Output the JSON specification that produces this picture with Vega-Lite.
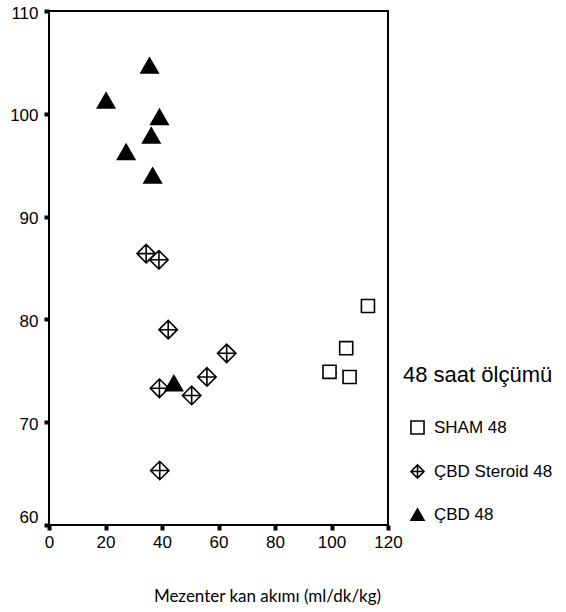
{
  "$schema": "https://vega.github.io/schema/vega-lite/v6.json",
  "width": 339,
  "height": 514,
  "autosize": {"type": "none"},
  "padding": {"left": 49, "top": 11, "right": 178, "bottom": 87},
  "background": "white",
  "config": {
    "view": {"stroke": "black", "strokeWidth": 2},
    "font": "Liberation Sans"
  },
  "data": {
    "values": [
      {"akim": 112.9, "deger": 81.3, "grup": "SHAM 48"},
      {"akim": 105.2, "deger": 77.2, "grup": "SHAM 48"},
      {"akim": 99.3, "deger": 74.9, "grup": "SHAM 48"},
      {"akim": 106.4, "deger": 74.4, "grup": "SHAM 48"},
      {"akim": 34.4, "deger": 86.4, "grup": "ÇBD Steroid 48"},
      {"akim": 38.9, "deger": 85.8, "grup": "ÇBD Steroid 48"},
      {"akim": 42.2, "deger": 79.0, "grup": "ÇBD Steroid 48"},
      {"akim": 62.9, "deger": 76.7, "grup": "ÇBD Steroid 48"},
      {"akim": 55.9, "deger": 74.4, "grup": "ÇBD Steroid 48"},
      {"akim": 39.1, "deger": 73.3, "grup": "ÇBD Steroid 48"},
      {"akim": 50.5, "deger": 72.6, "grup": "ÇBD Steroid 48"},
      {"akim": 39.2, "deger": 65.3, "grup": "ÇBD Steroid 48"},
      {"akim": 35.6, "deger": 104.7, "grup": "ÇBD 48"},
      {"akim": 20.2, "deger": 101.3, "grup": "ÇBD 48"},
      {"akim": 39.1, "deger": 99.7, "grup": "ÇBD 48"},
      {"akim": 36.2, "deger": 97.9, "grup": "ÇBD 48"},
      {"akim": 27.3, "deger": 96.3, "grup": "ÇBD 48"},
      {"akim": 36.7, "deger": 94.0, "grup": "ÇBD 48"},
      {"akim": 44.2, "deger": 73.8, "grup": "ÇBD 48"}
    ]
  },
  "mark": {"type": "point", "strokeWidth": 1.6, "opacity": 1, "fillOpacity": 1, "strokeOpacity": 1},
  "encoding": {
    "x": {
      "field": "akim",
      "type": "quantitative",
      "scale": {"domain": [0, 120], "nice": false, "zero": false},
      "axis": {
        "title": "Mezenter kan akımı (ml/dk/kg)",
        "values": [0, 20, 40, 60, 80, 100, 120],
        "domain": false,
        "grid": false,
        "tickColor": "black",
        "tickSize": 5,
        "tickWidth": 4,
        "labelFont": "Liberation Sans",
        "labelFontSize": 17,
        "labelColor": "black",
        "labelPadding": 4,
        "labelFlush": false,
        "titleFont": "Lato",
        "titleFontSize": 17,
        "titleFontWeight": "normal",
        "titleColor": "black",
        "titleX": 218,
        "titleY": 76,
        "titleAlign": "center",
        "titleBaseline": "alphabetic"
      }
    },
    "y": {
      "field": "deger",
      "type": "quantitative",
      "scale": {"domain": [60, 110], "nice": false, "zero": false},
      "axis": {
        "title": null,
        "values": [60, 70, 80, 90, 100, 110],
        "domain": false,
        "grid": false,
        "tickColor": "black",
        "tickSize": 5,
        "tickWidth": 4,
        "labelFont": "Liberation Sans",
        "labelFontSize": 17,
        "labelColor": "black",
        "labelPadding": 6,
        "labelFlush": false,
        "labelOffset": {"condition": {"test": "datum.value == 60", "value": -8}, "value": 2}
      }
    },
    "shape": {
      "field": "grup",
      "type": "nominal",
      "title": "48 saat ölçümü",
      "scale": {
        "domain": ["SHAM 48", "ÇBD Steroid 48", "ÇBD 48"],
        "range": ["square", "M-1,0L0,-1L1,0L0,1ZM-1,0L1,0M0,-1L0,1", "triangle-up"]
      },
      "legend": {
        "orient": "none",
        "legendX": 354,
        "legendY": 354,
        "padding": 0,
        "titleFont": "Liberation Sans",
        "titleFontSize": 22,
        "titleFontWeight": "normal",
        "titleColor": "black",
        "titlePadding": 32,
        "labelFont": "Liberation Sans",
        "labelFontSize": 17,
        "labelColor": "black",
        "labelOffset": 8,
        "symbolOffset": 6,
        "symbolSize": 170,
        "rowPadding": 23,
        "symbolStrokeColor": "black",
        "symbolStrokeWidth": 1.6,
        "encode": {"symbols": {"update": {"stroke": {"value": "black"}, "strokeWidth": {"value": 1.6}}}}
      }
    },
    "fill": {
      "field": "grup",
      "type": "nominal",
      "title": "48 saat ölçümü",
      "scale": {
        "domain": ["SHAM 48", "ÇBD Steroid 48", "ÇBD 48"],
        "range": ["white", "white", "black"]
      }
    },
    "stroke": {
      "field": "grup",
      "type": "nominal",
      "title": "48 saat ölçümü",
      "scale": {
        "domain": ["SHAM 48", "ÇBD Steroid 48", "ÇBD 48"],
        "range": ["black", "black", "black"]
      }
    },
    "size": {
      "condition": [
        {"test": "datum.grup == 'SHAM 48'", "value": 170},
        {"test": "datum.grup == 'ÇBD 48'", "value": 300}
      ],
      "value": 340
    }
  }
}
